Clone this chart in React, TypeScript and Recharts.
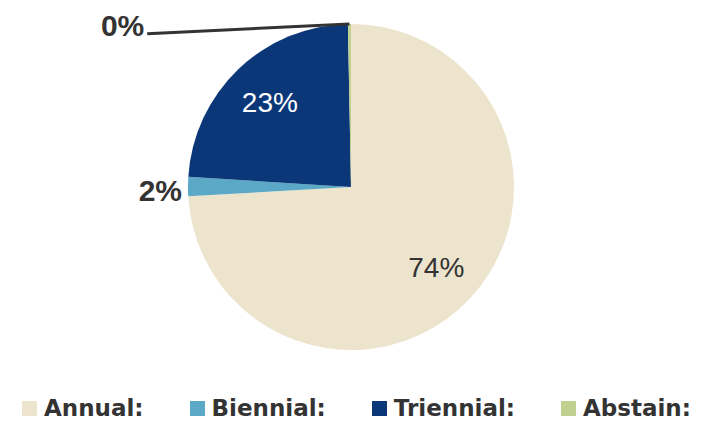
import { PieChart, Pie, Cell, Legend } from 'recharts'

const categories = ['Annual:', 'Biennial:', 'Triennial:', 'Abstain:']
const shares = [74.1, 1.9, 23.7, 0.3]
const shareLabels = ['74%', '2%', '23%', '0%']
const sliceColors = ['#ECE4CC', '#5CA8C7', '#0B3779', '#BFD08F']

const data = categories.map((name, i) => ({ name, value: shares[i], label: shareLabels[i] }))

const RADIAN = Math.PI / 180
const textDark = '#333333'

function renderLabel(props: any) {
  const { cx, cy, midAngle, outerRadius, index } = props
  const label = shareLabels[index]
  if (index === 0 || index === 2) {
    // inside the slice
    const r = outerRadius * 0.72
    const x = cx + r * Math.cos(-midAngle * RADIAN)
    const y = cy + r * Math.sin(-midAngle * RADIAN)
    return (
      <text
        x={x}
        y={y}
        fill={index === 2 ? '#ffffff' : textDark}
        textAnchor="middle"
        dominantBaseline="central"
        fontSize={28}
        fontFamily="Liberation Sans, Arial, sans-serif"
      >
        {label}
      </text>
    )
  }
  if (index === 1) {
    return (
      <text
        x={cx - outerRadius - 6}
        y={cy + 3}
        fill={textDark}
        textAnchor="end"
        dominantBaseline="central"
        fontSize={30}
        fontWeight="bold"
        fontFamily="Liberation Sans, Arial, sans-serif"
      >
        {label}
      </text>
    )
  }
  // abstain: tiny slice at the top, leader line out to the left
  const sx = cx + outerRadius * Math.cos(-midAngle * RADIAN)
  const sy = cy + outerRadius * Math.sin(-midAngle * RADIAN)
  const ex = cx - outerRadius * 1.25
  const ey = cy - outerRadius * 0.94
  return (
    <g>
      <line x1={sx} y1={sy} x2={ex} y2={ey} stroke={textDark} strokeWidth={3} />
      <text
        x={ex - 3}
        y={ey - 8}
        fill={textDark}
        textAnchor="end"
        dominantBaseline="central"
        fontSize={30}
        fontWeight="bold"
        fontFamily="Liberation Sans, Arial, sans-serif"
      >
        {label}
      </text>
    </g>
  )
}

function renderLegend() {
  return (
    <div
      style={{
        display: 'flex',
        alignItems: 'center',
        gap: 46,
        paddingLeft: 22,
        height: 34,
        fontFamily: 'DejaVu Sans, sans-serif',
        fontWeight: 'bold',
        fontSize: 23,
        color: textDark,
      }}
    >
      {data.map((d, i) => (
        <div key={d.name} style={{ display: 'flex', alignItems: 'center' }}>
          <span
            style={{
              display: 'inline-block',
              width: 15,
              height: 15,
              background: sliceColors[i],
              marginRight: 7,
            }}
          />
          <span>{d.name}</span>
        </div>
      ))}
    </div>
  )
}

export default function App() {
  return (
    <div style={{ position: 'absolute', left: 0, top: 0, background: '#fff' }}>
      <PieChart width={712} height={425} margin={{ top: 0, right: 0, bottom: 0, left: 0 }}>
        <Pie
          data={data}
          dataKey="value"
          nameKey="name"
          cx={351}
          cy={187}
          outerRadius={163}
          startAngle={90}
          endAngle={-270}
          stroke="none"
          label={renderLabel}
          labelLine={false}
          isAnimationActive={false}
        >
          {data.map((d, i) => (
            <Cell key={d.name} fill={sliceColors[i]} />
          ))}
        </Pie>
        <Legend verticalAlign="bottom" content={renderLegend} />
      </PieChart>
    </div>
  )
}
